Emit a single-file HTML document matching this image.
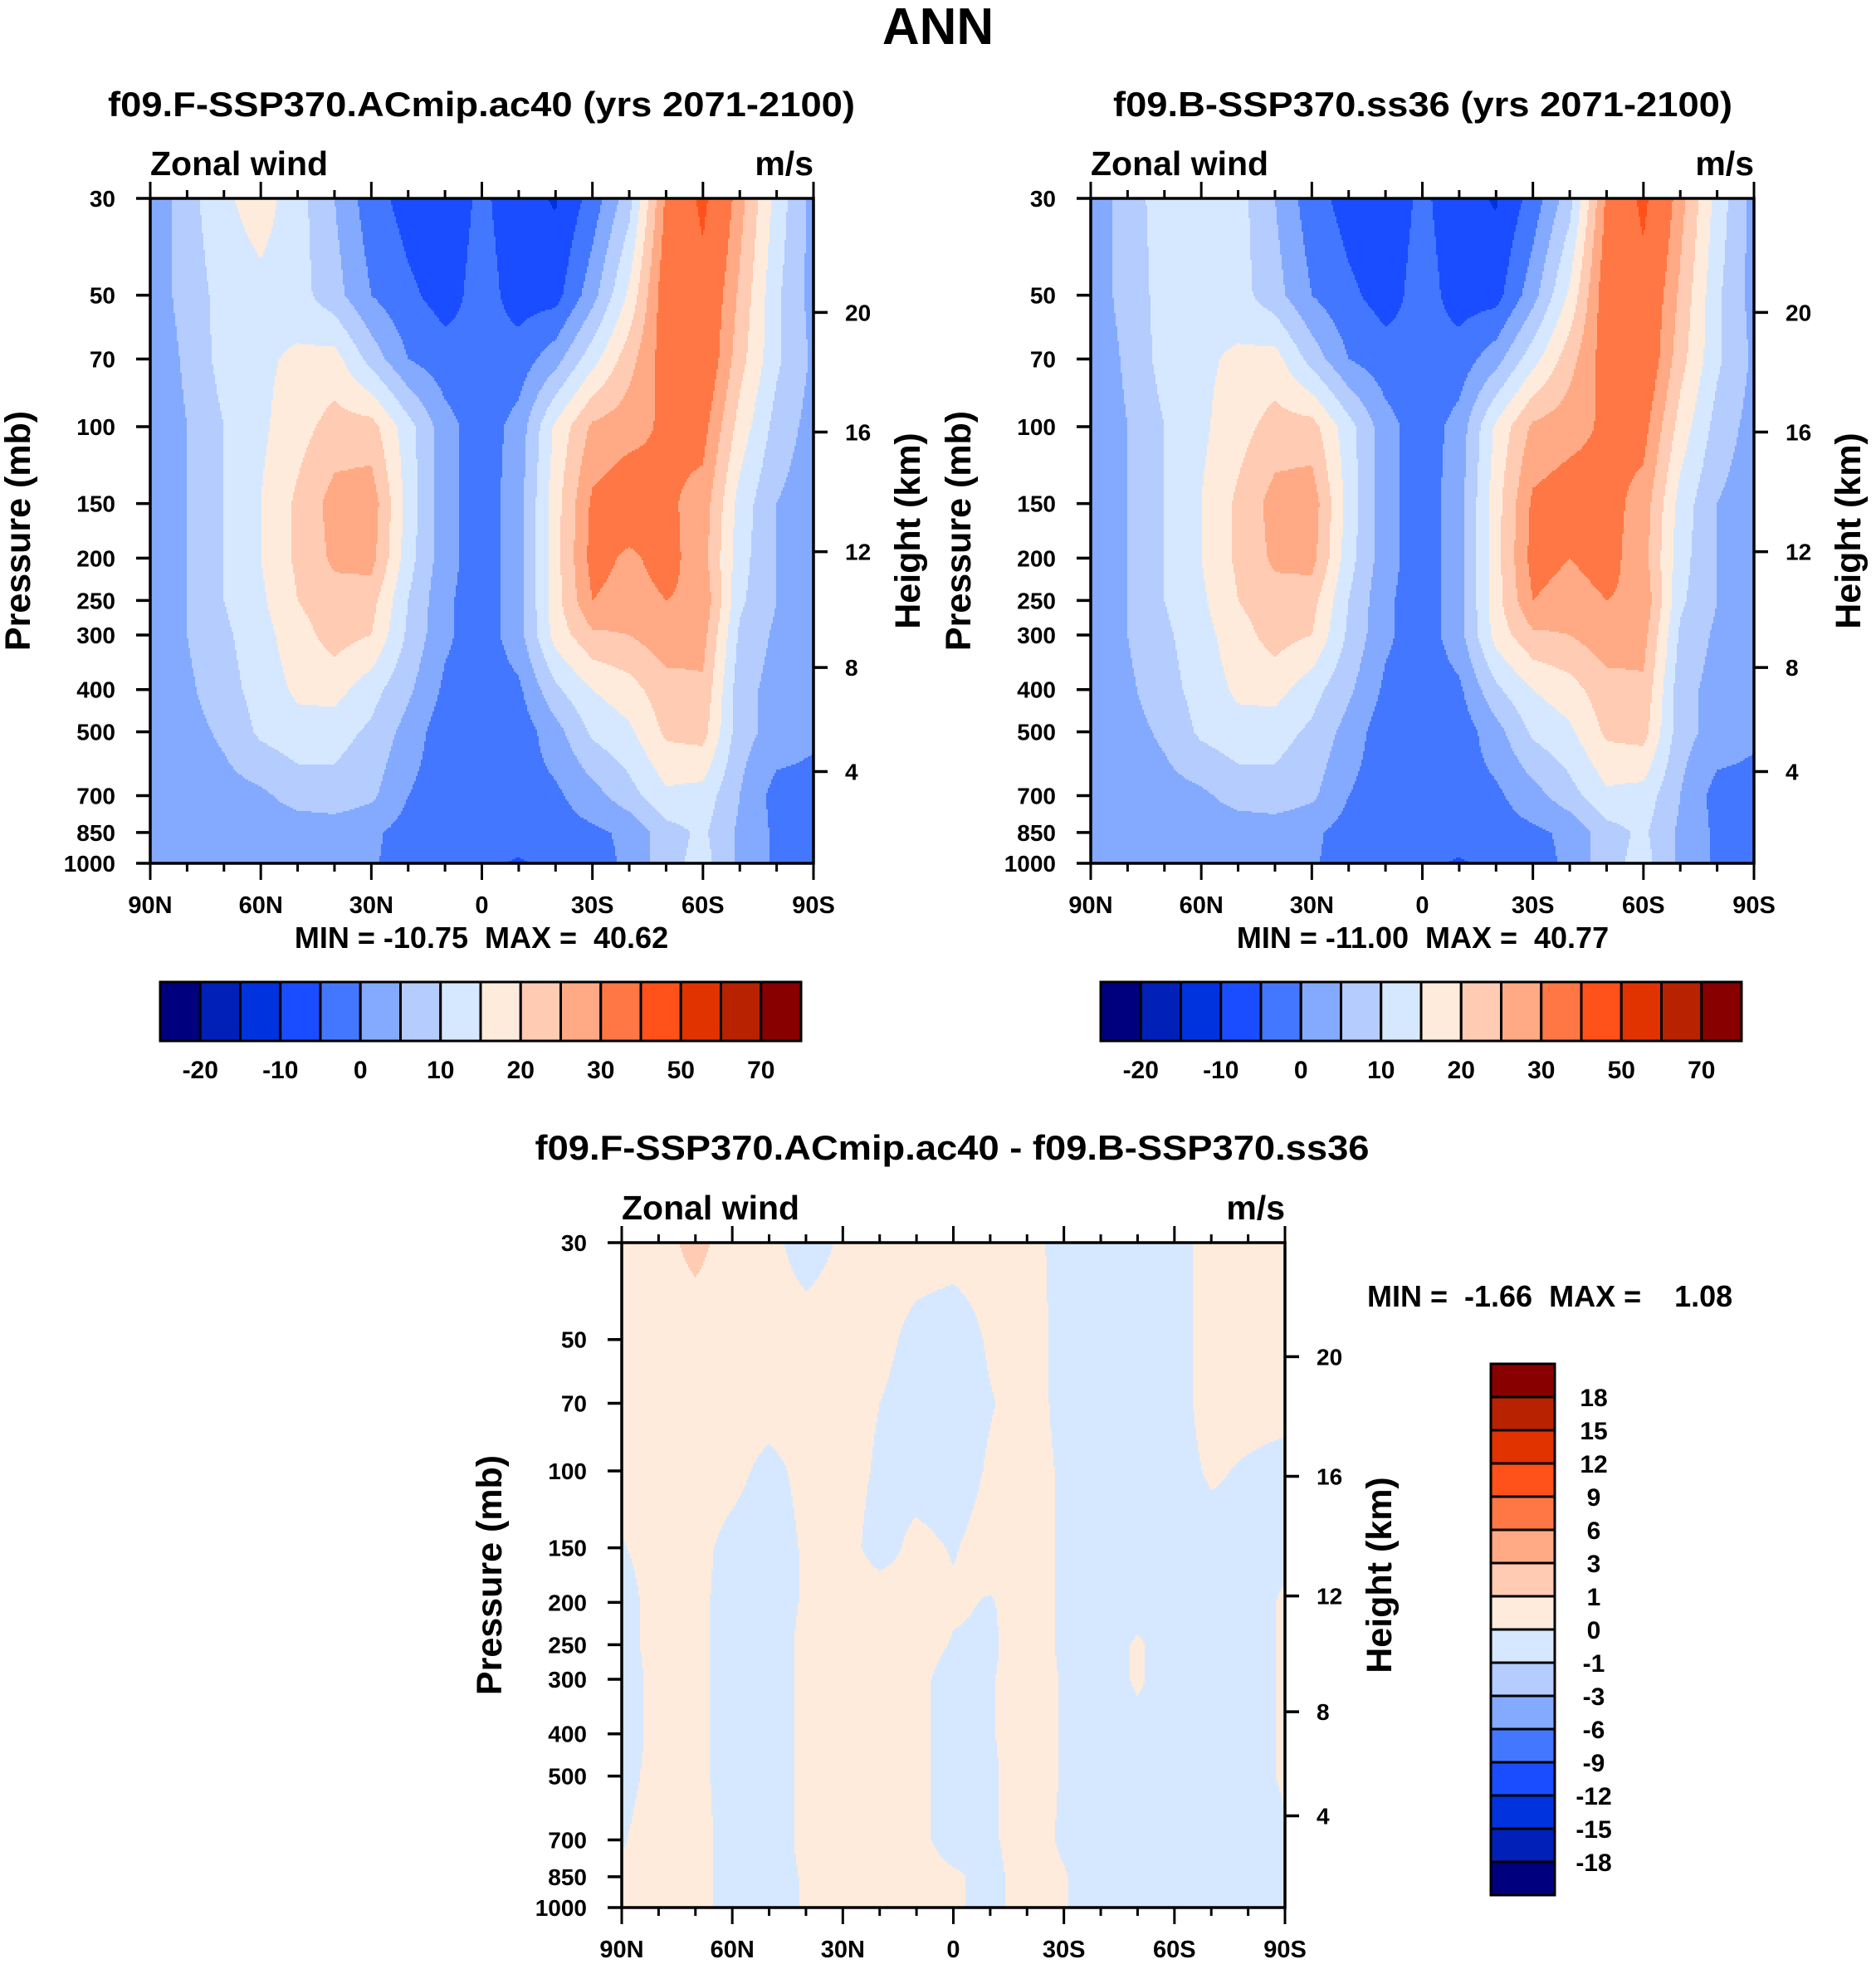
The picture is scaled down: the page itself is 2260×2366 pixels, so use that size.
<!DOCTYPE html>
<html><head><meta charset="utf-8"><style>
html,body{margin:0;padding:0;background:#fff;}
svg{display:block;font-family:"Liberation Sans",Arial,sans-serif;font-weight:bold;}
</style></head><body>
<svg id="fig" xmlns="http://www.w3.org/2000/svg" width="2260" height="2366" viewBox="0 0 2260 2366">
<rect x="0" y="0" width="2260" height="2366" fill="#fff"/>
<text x="1130" y="53" font-size="62" text-anchor="middle">ANN</text>
</svg>
<script>
// ---- data ----
const lats=[90,80,70,60,50,40,30,20,10,0,-10,-20,-30,-40,-50,-60,-70,-80,-90];
const plev=[30,50,70,100,150,200,250,300,400,500,700,850,1000];
const pTicks=[30,50,70,100,150,200,250,300,400,500,700,850,1000];
const kmTicks=[4,8,12,16,20];
const latTicks=[90,60,30,0,-30,-60,-90];
const latTickLabels=["90N","60N","30N","0","30S","60S","90S"];
const colors=["#00007f","#0020b8","#0033dd","#1a4dff","#4477ff","#84aaff","#b5ccff","#d6e8ff","#ffebdb","#ffcbb2","#ffaa84","#ff7744","#ff5119","#e03300","#b82200","#880000"];
const levelsAbs=[-20,-15,-10,-5,0,5,10,15,20,25,30,40,50,60,70];
const levelsAbsLabels=["-20","-10","0","10","20","30","50","70"];
const levelsDiff=[-18,-15,-12,-9,-6,-3,-1,0,1,3,6,9,12,15,18];
const u1=[
[1,8,14,17.5,12,5,-3,-7,-8,-4,-8,-10.5,-3,8,31,42,27,13,3],
[2,7,12,13.5,12,7,0,-4,-7,-3,-7,-7,3,16,34,37,24,11,3],
[1,6,12,14,16,17,8,0,-3,-4,-3,3,13,23,33,36,22,11,4],
[1,5,10,14,18,22,22,12,2,-3,2,16,26,28,31,32,18,8,3],
[1,5,10,15,21,27,28,13,2,-3,3,18,31,34,31,28,13,5,2],
[1,5,10,15,21,26,27,12,2,-3,3,18,32,29,32,27,12,5,2],
[1,5,10,14,20,23,22,10,1,-3,3,18,30,28,30,29,11,5,2],
[1,5,9,13,18,22,20,9,1,-3,3,17,24,25,28,27,9,4,1],
[1,4,8,12,16,17,12,6,-1,-3,-1,9,15,18,23,24,7,3,1],
[0.5,3,6,11,13,12,9,3,-3,-4,-3,3,11,14,21,22,7,3,1],
[1,2,3,4,7,8,6,0,-3,-4,-2,-1,3,8,14,13,5,-2,-2],
[1,2,2,2,2,2,1,-2,-4,-4,-3,-2,-1,1,8,11,4,-1,-2],
[1,1,1,1,1,1,0.5,-2,-4,-4,-5.5,-4,-2,1,8,12,4,-1,-2]];
const u2=[
[1,8,12,14,12,5,-3,-7,-8,-4,-8,-10.5,-3,8,31,42,27,13,3],
[2,7,12,13,12,7,0,-4,-7,-3,-7,-7,3,16,34,37,24,11,3],
[1,6,12,14,16,17,8,0,-3,-4,-3,3,13,23,33,36,22,11,4],
[1,5,10,14,18,22,22,12,2,-3,2,16,26,28,31,32,18,8,3],
[1,5,10,15,21,27,28,13,2,-3,3,18,31,33,32,28,13,5,2],
[1,5,10,15,21,26,27,12,2,-3,3,18,32,30,32,27,12,5,2],
[1,5,10,14,20,23,22,10,1,-3,3,18,30,28,30,29,11,5,2],
[1,5,9,13,18,22,20,9,1,-3,3,17,24,25,28,27,9,4,1],
[1,4,8,12,16,17,12,6,-1,-3,-1,9,15,18,23,24,7,3,1],
[0.5,3,6,11,13,12,9,3,-3,-4,-3,3,11,14,21,22,7,3,1],
[1,2,3,4,7,8,6,0,-3,-4,-2,-1,3,8,14,13,5,-2,-2],
[1,2,2,2,2,2,1,-2,-4,-4,-3,-2,-1,1,8,11,4,-1,-2],
[1,1,1,1,1,1,0.5,-2,-4,-4,-5.5,-4,-2,1,8,12,4,-1,-2]];
const udiff=[
[0.3,0.5,1.4,0.4,0.2,-0.3,0.1,0.3,0.3,0.3,0.3,0.3,-0.3,-0.4,-0.4,-0.3,0.3,0.4,0.4],
[0.3,0.3,0.3,0.3,0.3,0.3,0.3,0.2,-0.2,-0.4,0.1,0.3,-0.2,-0.4,-0.4,-0.3,0.3,0.3,0.3],
[0.3,0.3,0.3,0.3,0.3,0.3,0.3,0,-0.3,-0.4,-0.05,0.3,-0.2,-0.4,-0.4,-0.3,0.3,0.3,0.3],
[0.3,0.3,0.3,0.2,-0.2,0.2,0.3,-0.1,-0.3,-0.4,0.1,0.3,-0.1,-0.4,-0.4,-0.3,0.1,-0.1,-0.3],
[-0.05,0.3,0.2,-0.2,-0.4,0.1,0.3,-0.3,0.2,-0.05,0.3,0.3,-0.1,-0.4,-0.4,-0.4,-0.3,-0.1,-0.2],
[-0.3,0.3,0.2,-0.3,-0.4,0.1,0.4,0.4,0.3,0.1,-0.05,0.3,-0.1,-0.4,-0.3,-0.4,-0.4,-0.3,0.1],
[-0.3,0.3,0.2,-0.3,-0.4,0.2,0.4,0.4,0.3,-0.05,-0.1,0.3,-0.1,-0.4,0.1,-0.4,-0.4,-0.3,0.1],
[-0.3,0.2,0.2,-0.3,-0.4,0.2,0.4,0.4,0.2,-0.3,-0.05,0.3,-0.05,-0.4,0.1,-0.4,-0.4,-0.3,0.1],
[-0.3,0.2,0.2,-0.3,-0.4,0.2,0.4,0.4,0.2,-0.3,-0.05,0.3,-0.05,-0.4,-0.2,-0.4,-0.4,-0.3,0.1],
[-0.2,0.2,0.2,-0.3,-0.4,0.2,0.4,0.4,0.2,-0.3,-0.1,0.3,-0.05,-0.4,-0.4,-0.4,-0.4,-0.3,0.1],
[-0.05,0.3,0.2,-0.2,-0.4,0.2,0.4,0.4,0.2,-0.3,-0.1,0.3,-0.1,-0.4,-0.4,-0.4,-0.4,-0.4,-0.1],
[0.1,0.3,0.2,-0.2,-0.4,0.1,0.4,0.4,0.3,0.1,-0.2,0.3,0.05,-0.4,-0.4,-0.4,-0.4,-0.4,-0.3],
[0.1,0.3,0.2,-0.2,-0.4,0.1,0.4,0.4,0.3,0.1,-0.2,0.3,0.05,-0.4,-0.4,-0.4,-0.4,-0.4,-0.3]];

const NS="http://www.w3.org/2000/svg";
const svg=document.getElementById('fig');
function mk(tag,attrs,parent){const e=document.createElementNS(NS,tag);for(const k in attrs)e.setAttribute(k,attrs[k]);(parent||svg).appendChild(e);return e;}
function txt(s,attrs,parent){const e=mk('text',attrs,parent);e.textContent=s;return e;}

function kmToP(z){return z<=11?1013.25*Math.pow(1-0.0065*z*1000/288.15,5.25588):226.32*Math.exp(-(z-11)/6.3416);}

function panel(o){
  const X0=o.x,Y0=o.y,W=o.w,H=o.h;
  const xOf=lat=>X0+(90-lat)/180*W;
  const yOf=p=>Y0+Math.log(p/30)/Math.log(1000/30)*H;
  const g=mk('g',{});
  
  
  const fg=mk('g',{},g);
  
  
  const step=2;
  function val(lat,p){
    let j=(90-lat)/10; j=Math.max(0,Math.min(lats.length-1.0001,j));
    const j0=Math.floor(j),tj=j-j0;
    const lp=Math.log(p);
    let i=0; while(i<plev.length-2 && p>plev[i+1]) i++;
    const ti=Math.max(0,Math.min(1,(lp-Math.log(plev[i]))/(Math.log(plev[i+1])-Math.log(plev[i]))));
    const f=o.field;
    const a=f[i][j0]*(1-tj)+f[i][j0+1]*tj, b=f[i+1][j0]*(1-tj)+f[i+1][j0+1]*tj;
    return a*(1-ti)+b*ti;
  }
  function idx(v){let k=0;while(k<o.levels.length && v>=o.levels[k])k++;return k;}
  function band(x1,x2,py,c){
    const r=mk('rect',{x:x1,y:py,width:x2-x1+0.6,height:step+0.6,fill:colors[c]},fg);
    
    
  }
  for(let py=Y0;py<Y0+H;py+=step){
    const p=30*Math.pow(1000/30,(py+step/2-Y0)/H);
    let runStart=X0,runC=-1;
    for(let px=X0;px<X0+W;px+=step){
      const lat=90-(px+step/2-X0)/W*180;
      const c=idx(val(lat,p));
      if(c!==runC){
        if(runC>=0) band(runStart,px,py,runC);
        runStart=px;runC=c;
      }
    }
    if(runC>=0) band(runStart,X0+W,py,runC);
  }
  const fr=mk('rect',{x:X0,y:Y0,width:W,height:H,fill:'none',stroke:'#000','stroke-width':3.5},g);
  
  
  for(let lat=90;lat>=-90;lat-=10){
    const major=lat%30===0;const L=major?20:10;const x=xOf(lat);
    const t1=mk('line',{x1:x,x2:x,y1:Y0,y2:Y0-L,stroke:'#000','stroke-width':3},g);
    
    
    const t2=mk('line',{x1:x,x2:x,y1:Y0+H,y2:Y0+H+L,stroke:'#000','stroke-width':3},g);
    
    
  }
  latTicks.forEach((lat,k)=>{
    const t=txt(latTickLabels[k],{x:xOf(lat),y:Y0+H+60,'font-size':29,'text-anchor':'middle'},g);
    
    
  });
  pTicks.forEach(p=>{
    const y=yOf(p);
    const l=mk('line',{x1:X0,x2:X0-17,y1:y,y2:y,stroke:'#000','stroke-width':3.5},g);
    
    
    const t=txt(String(p),{x:X0-42,y:y+10,'font-size':28,'text-anchor':'end'},g);
    
    
  });
  kmTicks.forEach(z=>{
    const y=yOf(kmToP(z));
    const l=mk('line',{x1:X0+W,x2:X0+W+17,y1:y,y2:y,stroke:'#000','stroke-width':3.5},g);
    
    
    const t=txt(String(z),{x:X0+W+38,y:y+10,'font-size':28,'text-anchor':'start'},g);
    
    
  });
  const zw=txt('Zonal wind',{x:X0,y:Y0-28,'font-size':41},g);
  
  
  const un=txt('m/s',{x:X0+W,y:Y0-28,'font-size':41,'text-anchor':'end'},g);
  
  
  const cy=Y0+H/2;
  const pl=txt('Pressure (mb)',{x:0,y:0,'font-size':43,'text-anchor':'middle',transform:`translate(${o.plx},${cy}) rotate(-90)`},g);
  
  
  const hl=txt('Height (km)',{x:0,y:0,'font-size':43,'text-anchor':'middle',transform:`translate(${o.hlx},${cy}) rotate(-90)`},g);
  
  
  const tt=txt(o.title,{x:o.tx,y:o.ty,'font-size':42,'text-anchor':'middle',textLength:o.tl,lengthAdjust:'spacingAndGlyphs'},g);
  
  
  const mm=txt(o.minmax,{x:o.mx,y:o.my,'font-size':36,'text-anchor':o.manchor},g);
  
  
  mm.style.whiteSpace='pre';
}
function hbar(x0,y0,w,h){
  const g=mk('g',{});
  
  
  const bw=w/colors.length;
  colors.forEach((c,k)=>{
    const r=mk('rect',{x:x0+k*bw,y:y0,width:bw,height:h,fill:c,stroke:'#000','stroke-width':3},g);
    
    
  });
  levelsAbsLabels.forEach((s,k)=>{
    const t=txt(s,{x:x0+(2*k+1)*bw,y:y0+h+45,'font-size':30,'text-anchor':'middle'},g);
    
    
  });
}
function vbar(x0,y0,w,h){
  const g=mk('g',{});
  
  
  const bh=h/colors.length;
  colors.forEach((c,k)=>{
    const r=mk('rect',{x:x0,y:y0+h-(k+1)*bh,width:w,height:bh,fill:c,stroke:'#000','stroke-width':3},g);
    
    
  });
  levelsDiff.forEach((v,k)=>{
    const t=txt(String(v),{x:x0+w+47,y:y0+h-(k+1)*bh+11,'font-size':30,'text-anchor':'middle'},g);
    
    
  });
}
panel({name:'panel-ac40',x:181,y:239,w:799,h:801,field:u1,levels:levelsAbs,title:'f09.F-SSP370.ACmip.ac40 (yrs 2071-2100)',tx:580,ty:140,tl:900,plx:36,hlx:1108,minmax:'MIN = -10.75  MAX =  40.62',mx:580,my:1142,manchor:'middle'});
panel({name:'panel-ss36',x:1314,y:239,w:799,h:801,field:u2,levels:levelsAbs,title:'f09.B-SSP370.ss36 (yrs 2071-2100)',tx:1714,ty:140,tl:746,plx:1169,hlx:2241,minmax:'MIN = -11.00  MAX =  40.77',mx:1714,my:1142,manchor:'middle'});
panel({name:'panel-difference',x:749,y:1497,w:799,h:801,field:udiff,levels:levelsDiff,title:'f09.F-SSP370.ACmip.ac40 - f09.B-SSP370.ss36',tx:1147,ty:1397,tl:1005,plx:604,hlx:1676,minmax:'MIN =  -1.66  MAX =    1.08',mx:1647,my:1574,manchor:'start'});
hbar(193,1183,772,71);
hbar(1326,1183,772,71);
vbar(1796,1643,77,640);
</script>
</body></html>
